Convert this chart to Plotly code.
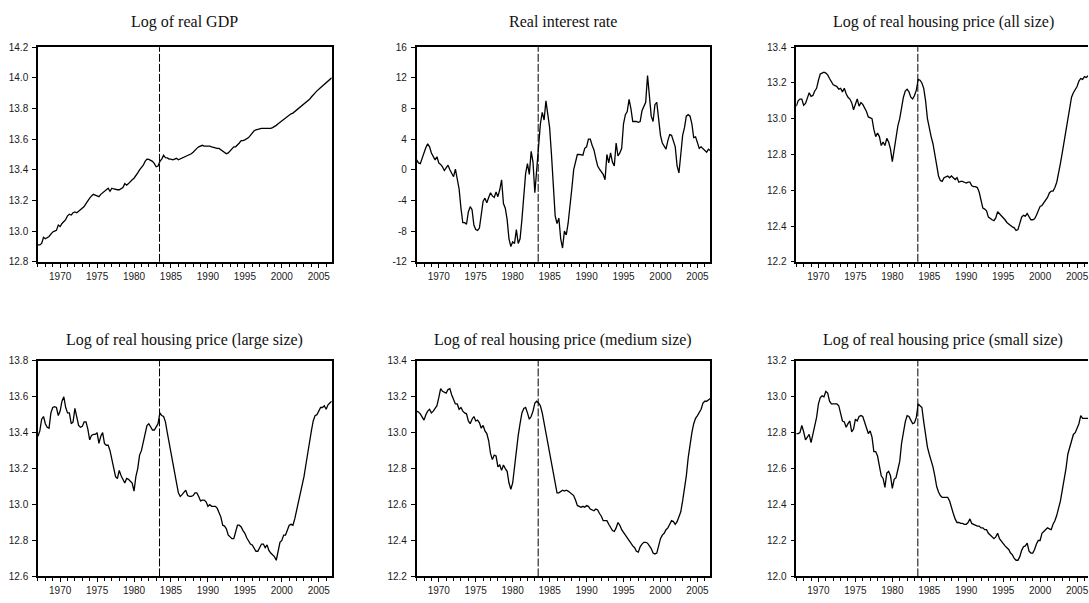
import pandas as pd
import plotly.graph_objects as go

# Quarterly observations, 1967Q1 - 2006Q4, placed at fractional years
quarters = pd.period_range("1967Q1", "2006Q4", freq="Q")
dates = [p.year + (p.quarter - 1) / 4 for p in quarters]

year_ticks = [1970, 1975, 1980, 1985, 1990, 1995, 2000, 2005]
break_date = 1983.45

log_gdp = [
    12.91, 12.91, 12.92, 12.96,  12.95, 12.955, 12.965, 12.98,
    12.995, 13.00, 13.005, 13.04,  13.03, 13.05, 13.065, 13.075,
    13.10, 13.11, 13.105, 13.12,  13.125, 13.12, 13.13, 13.14,
    13.155, 13.16, 13.18, 13.20,  13.215, 13.23, 13.24, 13.235,
    13.23, 13.225, 13.24, 13.25,  13.26, 13.265, 13.28, 13.26,
    13.28, 13.275, 13.27, 13.27,  13.27, 13.275, 13.285, 13.31,
    13.30, 13.31, 13.325, 13.335,  13.345, 13.36, 13.38, 13.40,
    13.415, 13.43, 13.455, 13.47,  13.468, 13.46, 13.455, 13.44,
    13.42, 13.425, 13.455, 13.47,  13.495, 13.48, 13.478, 13.47,
    13.47, 13.465, 13.47, 13.475,  13.465, 13.47, 13.475, 13.48,
    13.485, 13.49, 13.495, 13.505,  13.515, 13.53, 13.54, 13.55,
    13.555, 13.56, 13.555, 13.555,  13.555, 13.555, 13.55, 13.545,
    13.54, 13.54, 13.54, 13.53,  13.52, 13.515, 13.505, 13.51,
    13.525, 13.54, 13.55, 13.55,  13.56, 13.575, 13.59, 13.59,
    13.595, 13.60, 13.61, 13.625,  13.64, 13.655, 13.66, 13.665,
    13.665, 13.67, 13.67, 13.67,  13.67, 13.67, 13.67, 13.675,
    13.68, 13.69, 13.70, 13.71,  13.72, 13.73, 13.74, 13.75,
    13.755, 13.765, 13.77, 13.78,  13.79, 13.80, 13.81, 13.82,
    13.83, 13.835, 13.845, 13.86,  13.875, 13.89, 13.90, 13.915,
    13.925, 13.935, 13.95, 13.96,  13.97, 13.98, 13.99, 14.00,
]

real_rate = [
    1.3, 0.9, 0.8, 1.5,  2.5, 2.9, 3.4, 3.0,
    2.2, 1.7, 1.3, 1.7,  0.9, 0.7, 0.4, -0.1,
    0.3, 0.6, 0.0, -0.5,  -0.9, 0.1, -1.0, -2.5,
    -5.0, -6.9, -6.9, -7.1,  -5.5, -4.8, -5.2, -7.2,
    -7.8, -7.9, -7.6, -5.5,  -4.1, -3.7, -4.3, -3.6,
    -3.0, -3.4, -3.6, -2.9,  -3.5, -2.6, -1.3, -4.4,
    -5.0, -6.5, -9.0, -10.0,  -9.4, -9.6, -7.8, -9.6,
    -9.0, -6.5, -3.5, -0.5,  0.8, -0.6, 2.4, 1.0,
    -3.0, 0.0, 3.5, 6.0,  7.5, 6.5, 9.0, 7.5,
    5.5, 2.0, -2.0, -6.0,  -7.0, -6.3, -9.0, -10.2,
    -8.0, -8.5, -7.0, -5.0,  -2.5, 0.0, 1.2, 2.0,
    2.0, 1.9, 1.9, 2.8,  3.0, 4.0, 4.0, 3.2,
    2.6, 1.5, 0.5, 0.1,  -0.3, -0.6, -1.3, 2.0,
    0.9, 2.2, 1.0, 0.5,  3.5, 1.8, 2.2, 2.8,
    6.0, 7.2, 7.6, 9.2,  8.0, 6.3, 6.3, 6.3,
    6.2, 6.3, 7.7, 8.4,  8.8, 12.3, 10.0, 7.0,
    6.3, 8.5, 8.8, 7.0,  4.5, 3.5, 3.0, 2.7,
    3.8, 4.6, 4.5, 3.8,  3.0, 0.5, -0.4, 2.0,
    4.5, 5.5, 7.0, 7.2,  7.0, 6.0, 4.2, 4.3,
    3.5, 2.8, 3.0, 2.8,  2.6, 2.3, 2.7, 2.5,
]

price_all = [
    13.07, 13.10, 13.11, 13.11,  13.075, 13.085, 13.115, 13.145,
    13.125, 13.13, 13.155, 13.17,  13.215, 13.25, 13.255, 13.26,
    13.255, 13.245, 13.225, 13.21,  13.19, 13.185, 13.18, 13.165,
    13.17, 13.15, 13.17, 13.14,  13.12, 13.11, 13.09, 13.05,
    13.08, 13.11, 13.07, 13.09,  13.08, 13.06, 13.04, 13.01,
    13.005, 13.00, 12.94, 12.90,  12.92, 12.90, 12.85, 12.87,
    12.85, 12.89, 12.87, 12.83,  12.76, 12.83, 12.89, 12.96,
    13.00, 13.07, 13.12, 13.155,  13.165, 13.15, 13.12, 13.11,
    13.13, 13.16, 13.22, 13.215,  13.20, 13.17, 13.10, 13.00,
    12.94, 12.90, 12.86, 12.81,  12.74, 12.68, 12.655, 12.65,
    12.67, 12.675, 12.68, 12.67,  12.68, 12.67, 12.66, 12.67,
    12.645, 12.65, 12.65, 12.645,  12.64, 12.645, 12.645, 12.625,
    12.62, 12.62, 12.615, 12.59,  12.55, 12.50, 12.495, 12.485,
    12.45, 12.44, 12.435, 12.43,  12.445, 12.48, 12.47, 12.455,
    12.445, 12.435, 12.42, 12.41,  12.40, 12.395, 12.39, 12.375,
    12.38, 12.42, 12.45, 12.46,  12.455, 12.47, 12.45, 12.435,
    12.435, 12.44, 12.46, 12.49,  12.51, 12.515, 12.53, 12.545,
    12.56, 12.585, 12.595, 12.595,  12.615, 12.645, 12.69, 12.75,
    12.81, 12.87, 12.93, 13.01,  13.065, 13.12, 13.145, 13.16,
    13.18, 13.21, 13.225, 13.22,  13.235, 13.23, 13.24, 13.25,
]

price_large = [
    13.38, 13.41, 13.475, 13.49,  13.45, 13.43, 13.425, 13.51,
    13.54, 13.545, 13.54, 13.495,  13.52, 13.575, 13.60, 13.54,
    13.51, 13.51, 13.45, 13.46,  13.535, 13.485, 13.44, 13.43,
    13.435, 13.46, 13.46, 13.42,  13.36, 13.385, 13.39, 13.39,
    13.40, 13.34, 13.38, 13.40,  13.34, 13.33, 13.33, 13.30,
    13.245, 13.19, 13.155, 13.145,  13.19, 13.16, 13.14, 13.12,
    13.145, 13.14, 13.13, 13.12,  13.075, 13.155, 13.20, 13.275,
    13.30, 13.35, 13.40, 13.44,  13.45, 13.435, 13.415, 13.415,
    13.435, 13.45, 13.51, 13.495,  13.49, 13.46, 13.40, 13.34,
    13.285, 13.23, 13.175, 13.12,  13.065, 13.045, 13.055, 13.07,
    13.08, 13.05, 13.045, 13.045,  13.05, 13.065, 13.065, 13.045,
    13.02, 13.025, 13.025, 13.015,  12.99, 13.00, 12.99, 12.99,
    12.99, 12.98, 12.955, 12.93,  12.885, 12.88, 12.865, 12.83,
    12.82, 12.81, 12.81, 12.845,  12.885, 12.885, 12.875, 12.855,
    12.84, 12.815, 12.795, 12.78,  12.775, 12.76, 12.74, 12.74,
    12.765, 12.78, 12.78, 12.76,  12.775, 12.745, 12.73, 12.72,
    12.71, 12.69, 12.74, 12.79,  12.80, 12.83, 12.83, 12.855,
    12.885, 12.89, 12.885, 12.92,  12.965, 13.01, 13.065, 13.10,
    13.155, 13.22, 13.29, 13.355,  13.41, 13.465, 13.495, 13.50,
    13.52, 13.54, 13.54, 13.55,  13.53, 13.555, 13.565, 13.575,
]

price_medium = [
    13.12, 13.115, 13.105, 13.09,  13.07, 13.10, 13.12, 13.13,
    13.11, 13.12, 13.135, 13.15,  13.195, 13.245, 13.23, 13.225,
    13.22, 13.24, 13.245, 13.21,  13.185, 13.16, 13.16, 13.13,
    13.14, 13.12, 13.11, 13.105,  13.065, 13.05, 13.075, 13.09,
    13.065, 13.07, 13.055, 13.025,  13.04, 13.01, 12.995, 12.955,
    12.885, 12.85, 12.875, 12.87,  12.81, 12.82, 12.79, 12.82,
    12.80, 12.785, 12.72, 12.685,  12.72, 12.82, 12.91, 12.985,
    13.05, 13.11, 13.135, 13.14,  13.11, 13.075, 13.09, 13.12,
    13.165, 13.175, 13.165, 13.15,  13.11, 13.055, 12.995, 12.94,
    12.89, 12.84, 12.775, 12.71,  12.665, 12.665, 12.675, 12.68,
    12.675, 12.68, 12.675, 12.665,  12.66, 12.65, 12.625, 12.595,
    12.59, 12.585, 12.59, 12.585,  12.595, 12.59, 12.575, 12.57,
    12.565, 12.575, 12.57, 12.55,  12.535, 12.51, 12.51, 12.51,
    12.49, 12.47, 12.455, 12.45,  12.47, 12.50, 12.485, 12.46,
    12.445, 12.43, 12.41, 12.40,  12.38, 12.37, 12.36, 12.34,
    12.335, 12.365, 12.38, 12.39,  12.39, 12.385, 12.37, 12.355,
    12.33, 12.325, 12.33, 12.365,  12.41, 12.43, 12.44, 12.46,
    12.47, 12.49, 12.51, 12.505,  12.49, 12.505, 12.53, 12.56,
    12.62, 12.68, 12.76, 12.86,  12.94, 13.00, 13.05, 13.08,
    13.095, 13.11, 13.13, 13.165,  13.175, 13.175, 13.185, 13.19,
]

price_small = [
    12.795, 12.795, 12.80, 12.84,  12.805, 12.76, 12.775, 12.79,
    12.745, 12.795, 12.84, 12.885,  12.96, 12.995, 13.005, 13.00,
    13.03, 13.02, 12.975, 12.96,  12.96, 12.96, 12.96, 12.95,
    12.91, 12.865, 12.86, 12.83,  12.85, 12.865, 12.805, 12.82,
    12.875, 12.865, 12.89, 12.895,  12.89, 12.86, 12.82, 12.795,
    12.81, 12.775, 12.695, 12.695,  12.67, 12.615, 12.56, 12.545,
    12.495, 12.575, 12.585, 12.56,  12.49, 12.54, 12.55, 12.595,
    12.64, 12.74, 12.81, 12.86,  12.895, 12.89, 12.87, 12.85,
    12.855, 12.885, 12.96, 12.95,  12.94, 12.86, 12.79, 12.72,
    12.68, 12.65, 12.61, 12.56,  12.50, 12.47, 12.45, 12.44,
    12.44, 12.44, 12.44, 12.42,  12.38, 12.35, 12.32, 12.30,
    12.30, 12.295, 12.295, 12.29,  12.29, 12.30, 12.32, 12.295,
    12.29, 12.285, 12.28, 12.28,  12.27, 12.27, 12.26, 12.26,
    12.24, 12.23, 12.22, 12.21,  12.22, 12.24, 12.21, 12.195,
    12.18, 12.17, 12.16, 12.15,  12.13, 12.12, 12.10, 12.09,
    12.09, 12.11, 12.145, 12.165,  12.17, 12.185, 12.14, 12.13,
    12.13, 12.15, 12.18, 12.20,  12.20, 12.24, 12.25, 12.26,
    12.27, 12.265, 12.26, 12.29,  12.31, 12.34, 12.38, 12.42,
    12.48, 12.53, 12.60, 12.68,  12.72, 12.76, 12.79, 12.80,
    12.825, 12.85, 12.895, 12.88,  12.88, 12.88, 12.88, 12.885,
]

titles = [
    "Log of real GDP",
    "Real interest rate",
    "Log of real housing price (all size)",
    "Log of real housing price (large size)",
    "Log of real housing price (medium size)",
    "Log of real housing price (small size)",
]
series = [log_gdp, real_rate, price_all, price_large, price_medium, price_small]
y_ranges = [(12.8, 14.2), (-12, 16), (12.2, 13.4), (12.6, 13.8), (12.2, 13.4), (12.0, 13.2)]
y_steps = [0.2, 4, 0.2, 0.2, 0.2, 0.2]
y_decimals = [1, 0, 1, 1, 1, 1]

# ---- page geometry (pixels) ----
W, H = 1089, 603
col_left = [38, 417, 797]
plot_w = 294
row_top = [42, 362]
row_bottom = [261, 582]
title_y = [16, 341]
x_start, x_end = 1967.0, 2006.75
px_per_year = plot_w / (x_end - x_start)

tick_font = dict(family="Liberation Sans, Arial, sans-serif", size=10, color="#1a1a1a")
title_font = dict(family="Liberation Serif, Times New Roman, serif", size=16, color="#111")


def y_ticks(lo, hi, step, decimals):
    """Tick positions and labels written with a plain hyphen for negatives."""
    count = int(round((hi - lo) / step))
    vals = [round(lo + k * step, 6) for k in range(count + 1)]
    text = [f"{v:.{decimals}f}" for v in vals]
    return vals, text


fig = go.Figure()
layout = dict(
    width=W, height=H,
    margin=dict(l=0, r=0, t=0, b=0),
    paper_bgcolor="white", plot_bgcolor="white",
    showlegend=False,
)
annotations = []
shapes = []

for i, (vals, title) in enumerate(zip(series, titles)):
    r, c = divmod(i, 3)
    n = "" if i == 0 else str(i + 1)
    left = col_left[c]
    right = min(left + plot_w, W)
    x_hi = x_start + (right - left) / px_per_year
    xa = dict(
        domain=[left / W, right / W],
        range=[x_start, x_hi],
        anchor="y" + n,
        tickmode="array", tickvals=year_ticks, ticktext=[str(y) for y in year_ticks],
        ticks="outside", ticklen=4, tickwidth=1, tickcolor="black",
        minor=dict(ticks="outside", ticklen=3, tickwidth=1, tickcolor="black",
                   tickmode="linear", tick0=1967, dtick=1, showgrid=False),
        tickfont=tick_font, ticklabelstandoff=0, ticklabeloverflow="allow",
        showline=True, linewidth=1.5, linecolor="black", mirror=True,
        showgrid=False, zeroline=False, fixedrange=True,
    )
    lo, hi = y_ranges[i]
    tv, tt = y_ticks(lo, hi, y_steps[i], y_decimals[i])
    ya = dict(
        domain=[1 - row_bottom[r] / H, 1 - row_top[r] / H],
        range=[lo, hi],
        anchor="x" + n,
        tickmode="array", tickvals=tv, ticktext=tt,
        ticks="outside", ticklen=4, tickwidth=1, tickcolor="black",
        tickfont=tick_font, ticklabelstandoff=2, ticklabeloverflow="allow",
        showline=True, linewidth=1.5, linecolor="black",
        mirror=(c != 2),
        showgrid=False, zeroline=False, fixedrange=True,
    )
    layout["xaxis" + n] = xa
    layout["yaxis" + n] = ya

    fig.add_trace(go.Scatter(
        x=dates, y=vals, mode="lines",
        line=dict(color="black", width=1.3),
        xaxis="x" + n, yaxis="y" + n, hoverinfo="skip",
    ))

    shapes.append(dict(
        type="line", xref="x" + n, yref="y" + n + " domain",
        x0=break_date, x1=break_date, y0=0, y1=1,
        line=dict(color="black", width=1, dash="8px,2px"),
        layer="above",
    ))

    annotations.append(dict(
        text=title, showarrow=False,
        xref="paper", yref="paper",
        x=(left + plot_w / 2) / W, y=1 - title_y[r] / H,
        xanchor="center", yanchor="middle",
        font=title_font,
    ))

layout["annotations"] = annotations
layout["shapes"] = shapes
fig.update_layout(**layout)

fig.write_html("out.html", config={"displayModeBar": False})
